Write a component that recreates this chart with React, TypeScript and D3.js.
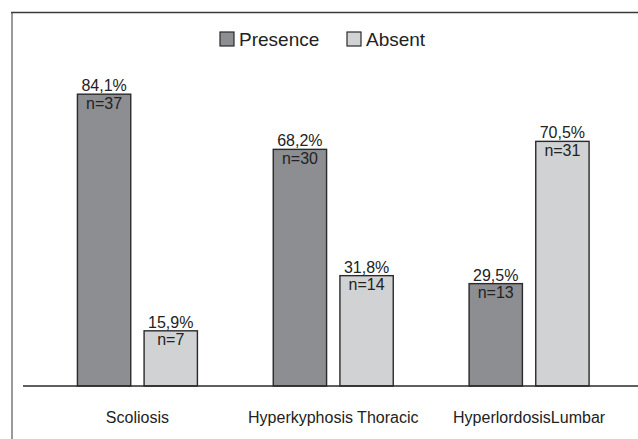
import { useEffect, useRef } from 'react';
import * as d3 from 'd3';

const categories = ['Scoliosis', 'Hyperkyphosis Thoracic', 'HyperlordosisLumbar'];
const seriesNames = ['Presence', 'Absent'];
const presencePct = [84.1, 68.2, 29.5];
const absentPct = [15.9, 31.8, 70.5];
const presenceN = [37, 30, 13];
const absentN = [7, 14, 31];

const width = 638;
const height = 439;
const colors = ['#8d8e92', '#d1d2d4'];
const font = 'Liberation Sans, Arial, sans-serif';

export default function App() {
  const ref = useRef<SVGSVGElement | null>(null);

  useEffect(() => {
    if (!ref.current) return;
    const svg = d3.select(ref.current);
    svg.selectAll('*').remove();

    const baseY = 386;
    const y = d3.scaleLinear().domain([0, 100]).range([baseY, 39]);
    const x0 = d3.scaleBand<string>().domain(categories).range([39.5, 627]);
    const groupW = 120;
    const x1 = d3
      .scaleBand<string>()
      .domain(seriesNames)
      .range([0, groupW])
      .paddingInner(0.2);

    // frame
    svg
      .append('line')
      .attr('x1', 12)
      .attr('x2', 12)
      .attr('y1', 12)
      .attr('y2', height)
      .attr('stroke', '#9a9a9a')
      .attr('stroke-width', 2);
    svg
      .append('line')
      .attr('x1', 11)
      .attr('x2', width)
      .attr('y1', 12.5)
      .attr('y2', 12.5)
      .attr('stroke', '#3a3a3a')
      .attr('stroke-width', 1.5);

    const rows = categories.map((c, i) => ({
      cat: c,
      vals: [
        { s: seriesNames[0], pct: presencePct[i], n: presenceN[i] },
        { s: seriesNames[1], pct: absentPct[i], n: absentN[i] },
      ],
    }));

    const groups = svg
      .selectAll('g.grp')
      .data(rows)
      .enter()
      .append('g')
      .attr('class', 'grp')
      .attr(
        'transform',
        (d) => `translate(${(x0(d.cat) ?? 0) + x0.bandwidth() / 2 - groupW / 2},0)`
      );

    const bars = groups
      .selectAll('g.bar')
      .data((d) => d.vals)
      .enter()
      .append('g')
      .attr('class', 'bar');

    bars
      .append('rect')
      .attr('x', (d) => x1(d.s) ?? 0)
      .attr('y', (d) => y(d.pct))
      .attr('width', x1.bandwidth())
      .attr('height', (d) => baseY - y(d.pct))
      .attr('fill', (_d, i) => colors[i])
      .attr('stroke', '#2a2a2a')
      .attr('stroke-width', 1.4);

    bars
      .append('text')
      .attr('x', (d) => (x1(d.s) ?? 0) + x1.bandwidth() / 2)
      .attr('y', (d) => y(d.pct) - 3)
      .attr('text-anchor', 'middle')
      .attr('font-family', font)
      .attr('font-size', 16)
      .attr('fill', '#222')
      .text((d) => d.pct.toFixed(1).replace('.', ',') + '%');

    bars
      .append('text')
      .attr('x', (d) => (x1(d.s) ?? 0) + x1.bandwidth() / 2)
      .attr('y', (d) => y(d.pct) + 14.5)
      .attr('text-anchor', 'middle')
      .attr('font-family', font)
      .attr('font-size', 16)
      .attr('fill', '#222')
      .text((d) => `n=${d.n}`);

    // baseline
    svg
      .append('line')
      .attr('x1', 23)
      .attr('x2', width)
      .attr('y1', baseY)
      .attr('y2', baseY)
      .attr('stroke', '#2a2a2a')
      .attr('stroke-width', 1.5);

    // category labels
    svg
      .selectAll('text.cat')
      .data(categories)
      .enter()
      .append('text')
      .attr('class', 'cat')
      .attr('x', (d) => (x0(d) ?? 0) + x0.bandwidth() / 2)
      .attr('y', 423)
      .attr('text-anchor', 'middle')
      .attr('font-family', font)
      .attr('font-size', 16)
      .attr('fill', '#222')
      .text((d) => d);

    // legend
    const legendX = [220, 347];
    const leg = svg
      .selectAll('g.leg')
      .data(seriesNames)
      .enter()
      .append('g')
      .attr('class', 'leg')
      .attr('transform', (_d, i) => `translate(${legendX[i]},32)`);
    leg
      .append('rect')
      .attr('width', 14)
      .attr('height', 14)
      .attr('fill', (_d, i) => colors[i])
      .attr('stroke', '#2a2a2a')
      .attr('stroke-width', 1.2);
    leg
      .append('text')
      .attr('x', 19)
      .attr('y', 14)
      .attr('font-family', font)
      .attr('font-size', 19)
      .attr('fill', '#222')
      .text((d) => d);
  }, []);

  return (
    <div style={{ position: 'absolute', left: 0, top: 0 }}>
      <svg ref={ref} width={width} height={height} style={{ display: 'block', background: '#fff' }} />
    </div>
  );
}
